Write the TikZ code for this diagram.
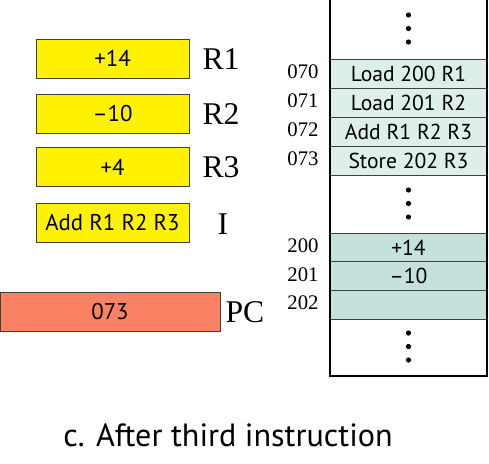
\documentclass[tikz,border=0pt]{standalone}
\usepackage{fontspec}
\setmainfont{Liberation Serif}
\newfontfamily\boxfont{PT Sans}

\begin{document}
\begin{tikzpicture}
		[x=0.02cm,y=-0.02cm,line cap=round,
		%Styles
		register/.style={draw=black!75,fill=regyellow,minimum width=3.06cm,minimum height=0.78cm,inner sep=0pt,font=\boxfont\fontsize{13}{15}\selectfont},
		pcbox/.style={register,fill=pcred,minimum width=4.4cm},
		reg label/.style={font=\fontsize{18}{20}\selectfont,inner sep=0pt},
		memcell/.style={draw=black!75,minimum width=3.14cm,minimum height=0.58cm,inner sep=0pt,font=\boxfont\fontsize{12.3}{14}\selectfont},
		addr/.style={font=\fontsize{11.8}{13}\selectfont,inner sep=0pt},
		memdot/.style={fill=black}
		]
		
		%Colors
		\colorlet{regyellow}{yellow}
		\definecolor{pcred}{HTML}{FA8264}
		\definecolor{codecell}{HTML}{DEEFEB}
		\definecolor{datacell}{HTML}{C5E1DC}
		
		\useasboundingbox (0,0) rectangle (489,463);
		
		%Registers
		\node[register] (r1) at (112.5,58.8) {+14};
		\node[register] (r2) at (112.5,114) {\textendash10};
		\node[register] (r3) at (112.5,167) {+4};
		\node[register] (ir) at (112.5,222.5) {Add R1 R2 R3};
		\node[pcbox] (pc) at (110,311.5) {073};
		\node[reg label] (r1l) at (221,59) {R1};
		\node[reg label] (r2l) at (221,114) {R2};
		\node[reg label] (r3l) at (221,167) {R3};
		\node[reg label] (irl) at (223,224) {I};
		\node[reg label] (pcl) at (245,312) {PC};
		
		%Memory
		\foreach \y/\ad/\txt in {73.5/070/Load 200 R1,102.5/071/Load 201 R2,131.5/072/Add R1 R2 R3,160.5/073/Store 202 R3}{
			\node[memcell,fill=codecell] (m\ad) at (408.5,\y) {\txt};
			\node[addr] (a\ad) at (303,\y-1.5) {\ad};
		}
		\foreach \y/\ad/\txt in {247.5/200/+14,276/201/\textendash10,304.5/202/}{
			\node[memcell,fill=datacell] (m\ad) at (408.5,\y) {\txt};
			\node[addr] (a\ad) at (303,\y-1.5) {\ad};
		}
		\draw[line width=1pt] (330,0) -- (330,376) -- (487,376) -- (487,0);
		\foreach \y in {15,28.5,42,190,203.5,217,333,346.5,360}
			\fill[memdot] (408.5,\y) circle (2.6);
		
		%Caption
		\node[font=\boxfont\fontsize{18.3}{20}\selectfont] (cap) at (228,435) {c. After third instruction};
	\end{tikzpicture}
\end{document}
